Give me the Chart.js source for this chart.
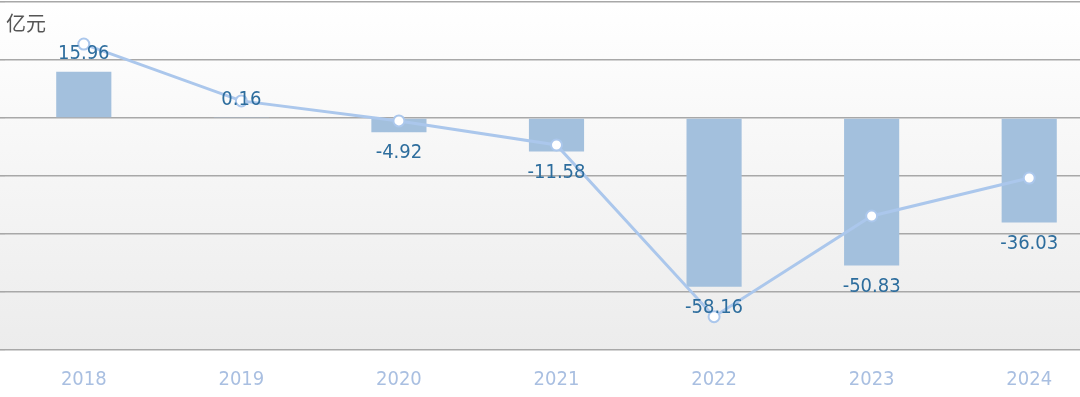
<!DOCTYPE html>
<html>
<head>
<meta charset="utf-8">
<script src="https://cdn.jsdelivr.net/npm/chart.js@4/dist/chart.umd.min.js"></script>
<style>
  html, body { margin: 0; padding: 0; background: #fff; overflow: hidden; }
  .graph { position: absolute; left: 0; top: 0; width: 1112px; height: 397px; }
</style>
</head>
<body>
<div class="graph"><canvas id="graphContainer"></canvas></div>
<script>
const years = ["2018", "2019", "2020", "2021", "2022", "2023", "2024"];
const barValues = [15.96, 0.16, -4.92, -11.58, -58.16, -50.83, -36.03];
// line series (same axis as bars)
const lineValues = [25.5, 5.9, -1.0, -9.3, -68.5, -33.8, -20.7];
const unitLabel = "亿元";

const LABEL_FONT = "'DejaVu Sans Condensed', 'DejaVu Sans', sans-serif";
const GRID = "#a8a8a8";

// light gradient behind the plot area
const plotBackground = {
  id: "plotBackground",
  beforeDraw(chart) {
    const { ctx, chartArea: a } = chart;
    const g = ctx.createLinearGradient(0, a.top, 0, a.bottom);
    g.addColorStop(0, "#ffffff");
    g.addColorStop(1, "#ececec");
    ctx.save();
    ctx.fillStyle = g;
    ctx.fillRect(0, a.top, chart.width, a.bottom - a.top);
    ctx.restore();
  },
};

// value labels at the end of every bar, plus the unit text
const barLabels = {
  id: "barLabels",
  afterDatasetsDraw(chart) {
    const ctx = chart.ctx;
    const meta = chart.getDatasetMeta(1);
    ctx.save();
    ctx.font = "20px " + LABEL_FONT;
    ctx.fillStyle = "#2d6d9d";
    ctx.textAlign = "center";
    ctx.textBaseline = "middle";
    meta.data.forEach((bar, i) => {
      const v = barValues[i];
      const y = v >= 0 ? bar.y - 18 : bar.y + 21;
      ctx.fillText(v.toFixed(2), bar.x, y);
    });
    ctx.font = "20px 'Noto Sans CJK SC', sans-serif";
    ctx.fillStyle = "#555555";
    ctx.textAlign = "left";
    ctx.fillText(unitLabel, 6, 23);
    ctx.restore();
  },
};

new Chart(document.getElementById("graphContainer"), {
  data: {
    labels: years,
    datasets: [
      {
        type: "line",
        label: "line",
        data: lineValues,
        borderColor: "#abc7ec",
        borderWidth: 3,
        pointRadius: 5.5,
        pointBackgroundColor: "#ffffff",
        pointBorderColor: "#abc7ec",
        pointBorderWidth: 2,
        tension: 0,
        clip: false,
        order: 0,
      },
      {
        type: "bar",
        label: "bar",
        data: barValues,
        backgroundColor: "#a3c0dd",
        categoryPercentage: 1,
        barPercentage: 0.35,
        order: 1,
      },
    ],
  },
  options: {
    responsive: true,
    maintainAspectRatio: false,
    animation: false,
    layout: { autoPadding: false, padding: { left: 0, right: 4, top: 2, bottom: 0 } },
    scales: {
      x: {
        grid: { display: false },
        border: { display: false },
        ticks: {
          color: "#a9bfe1",
          font: { family: LABEL_FONT, size: 20 },
          padding: 10,
          maxRotation: 0,
        },
        afterFit: (s) => { s.height = 47; },
      },
      y: {
        min: -80,
        max: 40,
        border: { display: false },
        grid: { color: GRID, tickColor: GRID, lineWidth: 1.6, drawTicks: true, tickLength: 5 },
        ticks: { display: false, stepSize: 20 },
        afterFit: (s) => { s.width = 5; },
      },
    },
    plugins: {
      legend: { display: false },
      tooltip: { enabled: false },
    },
  },
  plugins: [plotBackground, barLabels],
});
</script>
</body>
</html>
